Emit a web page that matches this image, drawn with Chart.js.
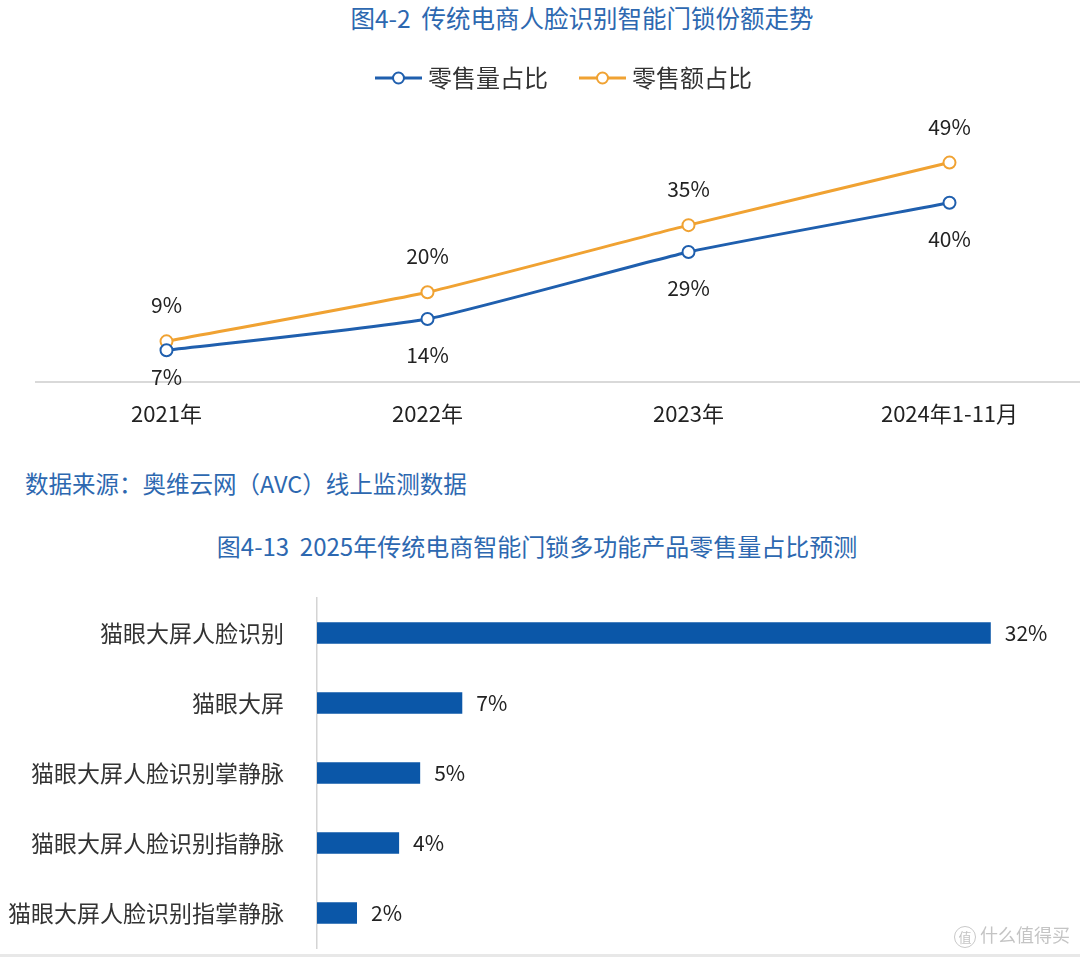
<!DOCTYPE html>
<html>
<head>
<meta charset="utf-8">
<script src="https://cdn.jsdelivr.net/npm/chart.js@4"></script>
<style>
  html, body { margin: 0; padding: 0; background: #fff; }
  body { width: 1080px; height: 957px; position: relative; overflow: hidden; font-family: 'Noto Sans CJK SC', sans-serif; }
  .abs { position: absolute; }
  canvas { display: block; }
  .title { color: #2d68b0; font-size: 24px; white-space: nowrap; line-height: 1; }
  #c1 { position: absolute; left: 0; top: 0; }
  #c2 { position: absolute; left: 0; top: 580px; }
  #wm { right: 10px; top: 923px; color: #c4c4c4; font-size: 18px; line-height: 22px; white-space: nowrap; }
  #wm .logo { display: inline-block; width: 20px; height: 20px; border: 1.5px solid #c8c8c8; border-radius: 50%; font-size: 13px; line-height: 20px; text-align: center; margin-right: 4px; vertical-align: middle; }
  #bottomline { left: 0; bottom: 0; width: 1080px; height: 3px; background: #e8e8e8; }
</style>
</head>
<body>
<div class="abs title" id="t1" style="left:0;width:1164px;text-align:center;top:6px;font-size:24.5px;">图4-2&nbsp;&nbsp;传统电商人脸识别智能门锁份额走势</div>
<canvas id="c1" width="1097" height="446"></canvas>
<div class="abs title" id="src" style="left:25px;top:472px;font-size:23.5px;">数据来源：奥维云网（AVC）线上监测数据</div>
<div class="abs title" id="t2" style="left:0;width:1074px;text-align:center;top:534px;">图4-13&nbsp;&nbsp;2025年传统电商智能门锁多功能产品零售量占比预测</div>
<canvas id="c2" width="1080" height="377"></canvas>
<div class="abs" id="wm"><span class="logo">值</span>什么值得买</div>
<div class="abs" id="bottomline"></div>
<script>
// ---- Data: line chart ----
const years = ['2021年', '2022年', '2023年', '2024年1-11月'];
const seriesNames = ['零售量占比', '零售额占比'];
const volumeShare = [7, 14, 29, 40];
const valueShare = [9, 20, 35, 49];

// ---- Data: bar chart ----
const products = ['猫眼大屏人脸识别', '猫眼大屏', '猫眼大屏人脸识别掌静脉', '猫眼大屏人脸识别指静脉', '猫眼大屏人脸识别指掌静脉'];
const productShare = [32, 6.9, 4.9, 3.9, 1.9];

const FONT = "'Noto Sans CJK SC', sans-serif";
const BLUE = '#1f5fae';
const ORANGE = '#f0a232';
const BAR = '#0b57a8';
const TEXT = '#222';

function legendMarker(color) {
  const c = document.createElement('canvas');
  c.width = 47; c.height = 14;
  const ctx = c.getContext('2d');
  ctx.strokeStyle = color; ctx.lineWidth = 3;
  ctx.beginPath(); ctx.moveTo(0, 7); ctx.lineTo(47, 7); ctx.stroke();
  ctx.beginPath(); ctx.arc(23.5, 7, 5.5, 0, Math.PI * 2);
  ctx.fillStyle = '#fff'; ctx.fill();
  ctx.lineWidth = 2; ctx.stroke();
  return c;
}
const markers = [legendMarker(BLUE), legendMarker(ORANGE)];

const lineLabels = {
  id: 'lineLabels',
  afterDatasetsDraw(chart) {
    const ctx = chart.ctx;
    const area = chart.chartArea;
    ctx.save();
    ctx.font = '21px ' + FONT;
    ctx.fillStyle = TEXT;
    ctx.textAlign = 'center';
    ctx.textBaseline = 'middle';
    chart.data.datasets.forEach((ds, di) => {
      const meta = chart.getDatasetMeta(di);
      meta.data.forEach((pt, i) => {
        const above = di === 1;
        let y = above ? pt.y - 36 : Math.min(pt.y + 36, area.bottom - 5);
        ctx.fillText(ds.data[i] + '%', pt.x, y);
      });
    });
    ctx.restore();
  }
};

new Chart(document.getElementById('c1'), {
  type: 'line',
  data: {
    labels: years,
    datasets: [
      { label: seriesNames[0], data: volumeShare, borderColor: BLUE, backgroundColor: '#fff',
        borderWidth: 3, pointRadius: 6, pointBorderWidth: 2, pointBackgroundColor: '#fff', pointBorderColor: BLUE, tension: 0.15 },
      { label: seriesNames[1], data: valueShare, borderColor: ORANGE, backgroundColor: '#fff',
        borderWidth: 3, pointRadius: 6, pointBorderWidth: 2, pointBackgroundColor: '#fff', pointBorderColor: ORANGE, tension: 0.15 }
    ]
  },
  options: {
    responsive: false, animation: false,
    layout: { padding: { left: 36, right: 0, top: 29, bottom: 0 } },
    plugins: {
      tooltip: { enabled: false },
      legend: {
        position: 'top',
        labels: {
          usePointStyle: true, pointStyleWidth: 35, padding: 37,
          color: '#333', font: { family: FONT, size: 24 },
          generateLabels(chart) {
            const items = Chart.defaults.plugins.legend.labels.generateLabels(chart);
            items.forEach((it, i) => { it.pointStyle = markers[i]; });
            return items;
          }
        }
      }
    },
    scales: {
      x: {
        offset: true,
        grid: { display: false, drawTicks: false },
        border: { display: true, color: '#d9d9d9', width: 2 },
        ticks: { color: TEXT, font: { family: FONT, size: 22 }, padding: 19, maxRotation: 0 }
      },
      y: {
        position: 'right', min: 0, max: 63,
        grid: { display: false, drawTicks: false },
        border: { display: false },
        ticks: { display: false },
        afterFit(scale) { scale.width = 17; }
      }
    }
  },
  plugins: [lineLabels]
});

const barLabels = {
  id: 'barLabels',
  afterDatasetsDraw(chart) {
    const ctx = chart.ctx;
    ctx.save();
    ctx.font = '21px ' + FONT;
    ctx.fillStyle = TEXT;
    ctx.textAlign = 'left';
    ctx.textBaseline = 'middle';
    const meta = chart.getDatasetMeta(0);
    meta.data.forEach((bar, i) => {
      ctx.fillText(Math.round(chart.data.datasets[0].data[i]) + '%', bar.x + 14, bar.y);
    });
    ctx.restore();
  }
};

new Chart(document.getElementById('c2'), {
  type: 'bar',
  data: {
    labels: products,
    datasets: [{ data: productShare, backgroundColor: BAR, borderWidth: 0, categoryPercentage: 1, barPercentage: 0.31 }]
  },
  options: {
    indexAxis: 'y',
    responsive: false, animation: false,
    layout: { padding: { left: 0, right: 5, top: 18, bottom: 9 } },
    plugins: { legend: { display: false }, tooltip: { enabled: false } },
    scales: {
      x: { display: false, min: 0, max: 36 },
      y: {
        grid: { display: false, drawTicks: false },
        border: { display: true, color: '#d4d4d4', width: 1.5 },
        ticks: { color: '#333', font: { family: FONT, size: 23 }, padding: 33 },
        afterFit(scale) { scale.width = 317; scale.paddingTop = 0; scale.paddingBottom = 0; }
      }
    }
  },
  plugins: [barLabels]
});
</script>
</body>
</html>
